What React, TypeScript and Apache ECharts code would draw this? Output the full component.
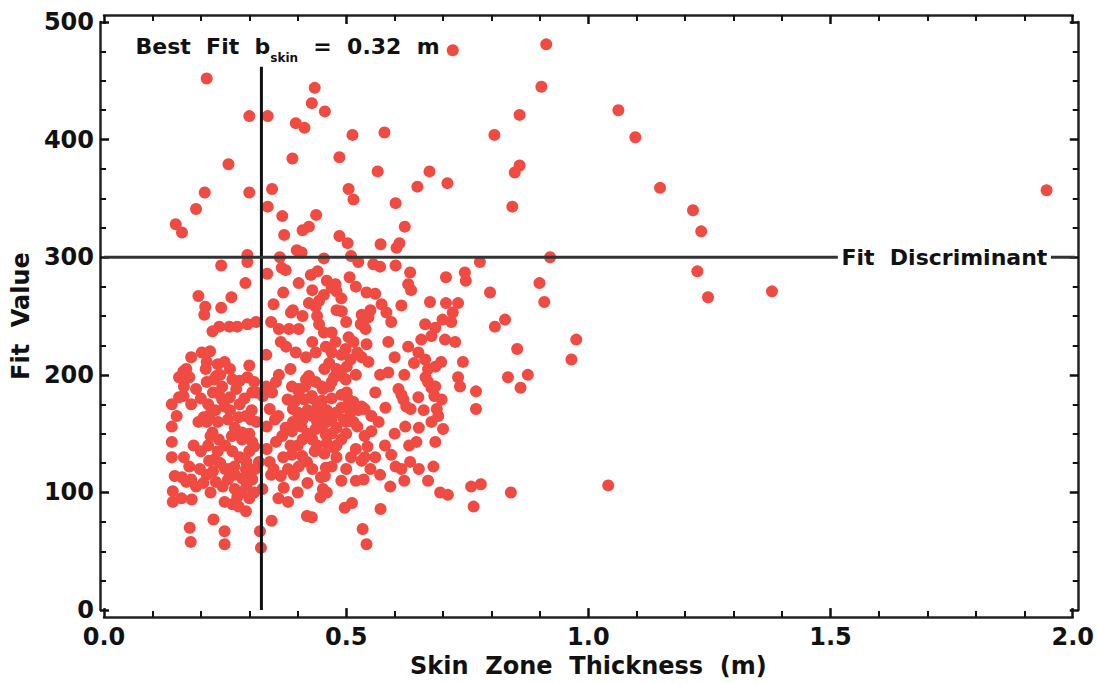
import React, { useEffect, useRef } from "react";
import * as echarts from "echarts";

// Skin zone thickness (m) vs fit value
const upperPoints: number[][] = [
  [0.72, 476], [0.913, 481], [0.212, 452], [0.435, 444], [0.429, 431], [0.456, 424],
  [0.3, 420], [0.338, 420], [0.396, 414], [0.414, 410], [0.513, 404], [0.579, 406],
  [0.806, 404], [0.858, 421], [0.903, 445], [1.062, 425], [1.097, 402], [0.257, 379],
  [0.389, 384], [0.486, 385], [0.565, 373], [0.672, 373], [0.647, 360], [0.709, 363],
  [0.848, 372], [0.858, 378], [1.148, 359], [1.946, 357], [0.208, 355], [0.3, 355],
  [0.347, 358], [0.505, 358], [0.515, 349], [0.602, 346], [0.19, 341], [0.338, 343],
  [0.843, 343], [1.216, 340], [0.368, 335], [0.438, 336], [0.148, 328], [0.161, 321],
  [0.372, 319], [0.41, 323], [0.423, 326], [0.486, 318], [0.503, 312], [0.571, 311],
  [0.604, 308], [0.61, 312], [0.621, 326], [1.233, 322], [0.398, 306], [0.408, 304],
  [0.296, 302], [0.363, 300], [0.454, 299], [0.51, 301], [0.921, 300],
];

const middlePoints: number[][] = [
  [0.242, 293], [0.296, 296], [0.367, 291], [0.375, 289], [0.337, 286], [0.292, 278],
  [0.402, 278], [0.427, 285], [0.441, 288], [0.47, 274], [0.454, 268], [0.444, 263],
  [0.195, 267], [0.263, 266], [0.209, 258], [0.242, 257], [0.507, 283], [0.632, 287],
  [0.628, 277], [0.634, 272], [0.706, 283], [0.745, 287], [0.747, 280], [0.478, 277],
  [0.48, 271], [0.542, 270], [0.56, 269], [0.573, 260], [0.614, 259], [0.673, 262],
  [0.706, 261], [0.731, 261], [0.776, 296], [0.797, 270], [0.899, 278], [0.909, 262],
  [1.225, 288], [1.247, 266], [1.379, 271], [0.525, 296], [0.556, 294], [0.57, 292],
  [0.602, 293], [0.423, 261], [0.437, 258],
  [0.207, 251], [0.224, 237], [0.238, 241], [0.259, 241], [0.275, 241], [0.296, 243],
  [0.314, 245], [0.361, 239], [0.382, 239], [0.402, 239], [0.386, 253], [0.444, 243],
  [0.454, 236], [0.376, 224], [0.396, 219], [0.417, 215], [0.437, 219], [0.458, 224],
  [0.47, 236], [0.48, 255], [0.335, 217], [0.361, 200], [0.202, 219], [0.219, 220],
  [0.212, 211], [0.235, 209], [0.249, 211], [0.164, 203], [0.17, 205],
  [0.491, 254], [0.532, 251], [0.546, 249], [0.53, 243], [0.54, 239], [0.536, 246],
  [0.583, 253], [0.593, 245], [0.72, 253], [0.699, 247], [0.663, 243], [0.684, 240],
  [0.717, 245], [0.478, 228], [0.47, 219], [0.505, 232], [0.515, 228], [0.499, 222],
  [0.49, 217], [0.542, 226], [0.587, 228], [0.628, 224], [0.655, 230], [0.676, 233],
  [0.704, 230], [0.725, 228], [0.649, 219], [0.663, 213], [0.669, 205], [0.684, 207],
  [0.696, 211], [0.532, 215], [0.546, 211], [0.587, 202], [0.741, 211], [0.807, 241],
  [0.828, 247], [0.853, 222], [0.975, 230], [0.965, 213], [0.465, 210], [0.48, 205],
  [0.501, 207], [0.509, 213], [0.523, 219], [0.232, 199],
  [0.35, 260], [0.37, 270], [0.39, 255], [0.41, 250], [0.43, 272], [0.46, 280],
  [0.49, 265], [0.52, 275], [0.55, 255], [0.5, 245], [0.44, 250], [0.345, 245],
  [0.365, 228], [0.385, 205], [0.43, 228], [0.455, 205], [0.52, 200], [0.57, 200],
  [0.6, 215], [0.62, 200], [0.64, 210], [0.21, 205], [0.24, 200], [0.26, 205],
  [0.28, 195], [0.3, 208], [0.18, 215],
];

const lowerPoints: number[][] = [
  [0.14, 175], [0.155, 181], [0.164, 182], [0.155, 198], [0.176, 198], [0.19, 188],
  [0.212, 194], [0.227, 196], [0.237, 184], [0.26, 181], [0.249, 173], [0.206, 164],
  [0.235, 160], [0.256, 162], [0.278, 164], [0.293, 165], [0.303, 162], [0.22, 148],
  [0.237, 145], [0.264, 148], [0.285, 145], [0.14, 156], [0.14, 143], [0.14, 130],
  [0.142, 101], [0.146, 114], [0.161, 113], [0.176, 122], [0.198, 120], [0.212, 115],
  [0.231, 109], [0.245, 105], [0.256, 111], [0.27, 103], [0.284, 100], [0.294, 105],
  [0.306, 111], [0.312, 120], [0.32, 126], [0.293, 120], [0.303, 117], [0.22, 100],
  [0.265, 196], [0.273, 188], [0.296, 198], [0.31, 194], [0.306, 185], [0.244, 179],
  [0.218, 166], [0.244, 190], [0.212, 160], [0.224, 151], [0.285, 151], [0.306, 143],
  [0.31, 139], [0.17, 109], [0.18, 111], [0.217, 127], [0.228, 128], [0.259, 120],
  [0.269, 122], [0.294, 126], [0.327, 103], [0.345, 115], [0.365, 114], [0.371, 104],
  [0.392, 115], [0.388, 132], [0.409, 131], [0.402, 122], [0.419, 126], [0.448, 113],
  [0.458, 121], [0.48, 130], [0.47, 122], [0.456, 114], [0.452, 103], [0.342, 126],
  [0.336, 137], [0.336, 156], [0.342, 171], [0.328, 182], [0.353, 162], [0.423, 199],
  [0.437, 194], [0.452, 188], [0.4, 188], [0.414, 179], [0.379, 179], [0.39, 171],
  [0.491, 199], [0.501, 185], [0.515, 177], [0.538, 171], [0.552, 165], [0.567, 160],
  [0.509, 168], [0.523, 156], [0.538, 148], [0.544, 139], [0.538, 130], [0.552, 152],
  [0.335, 190], [0.355, 194], [0.347, 185], [0.388, 190], [0.402, 186], [0.417, 196],
  [0.429, 182], [0.45, 190], [0.47, 194], [0.355, 143], [0.368, 148], [0.388, 152],
  [0.407, 156], [0.437, 154], [0.458, 149], [0.39, 160], [0.4, 168], [0.41, 162],
  [0.42, 170], [0.43, 165], [0.44, 172], [0.45, 165], [0.46, 170], [0.47, 162],
  [0.48, 168], [0.49, 172], [0.5, 160], [0.42, 150], [0.43, 145], [0.44, 160],
  [0.45, 155], [0.46, 160], [0.47, 150], [0.48, 155], [0.49, 145], [0.5, 150],
  [0.44, 140], [0.46, 142], [0.48, 140], [0.43, 180], [0.45, 178], [0.47, 180],
  [0.49, 183], [0.41, 145], [0.4, 140], [0.622, 156], [0.676, 160], [0.7, 154],
  [0.645, 143], [0.684, 143], [0.593, 132], [0.602, 122], [0.614, 120], [0.632, 126],
  [0.68, 122], [0.669, 110], [0.591, 105], [0.694, 100], [0.758, 105], [0.778, 107],
  [0.84, 100], [0.536, 111], [0.55, 120], [0.532, 127], [0.52, 137], [0.664, 198],
  [0.676, 189], [0.682, 182], [0.697, 179], [0.687, 171], [0.69, 165], [0.614, 183],
  [0.633, 171], [0.649, 181], [0.581, 172], [0.608, 188], [0.618, 179], [0.624, 173],
  [0.669, 194], [0.684, 190], [0.731, 198], [0.735, 190], [0.768, 186], [0.768, 171],
  [0.834, 198], [0.875, 200], [0.86, 189], [0.475, 198], [0.465, 190], [0.499, 196],
  [0.505, 179], [0.532, 173], [0.505, 172], [1.041, 106],
  [0.15, 165], [0.165, 190], [0.18, 175], [0.195, 160], [0.2, 180], [0.215, 175],
  [0.225, 185], [0.23, 170], [0.26, 170], [0.27, 155], [0.28, 175], [0.29, 180],
  [0.3, 150], [0.305, 170], [0.315, 185], [0.315, 160], [0.3, 135], [0.28, 130],
  [0.265, 135], [0.25, 140], [0.235, 135], [0.215, 140], [0.2, 135], [0.19, 105],
  [0.205, 108], [0.225, 118], [0.24, 125], [0.3, 95], [0.31, 100], [0.165, 130],
  [0.185, 140], [0.25, 120], [0.27, 115], [0.285, 112], [0.375, 155], [0.385, 140],
  [0.395, 178], [0.415, 190], [0.435, 135], [0.455, 133], [0.475, 138], [0.495, 162],
  [0.515, 160], [0.525, 170], [0.36, 165], [0.37, 130], [0.35, 120], [0.38, 120],
  [0.43, 120], [0.5, 120], [0.51, 130], [0.52, 110], [0.49, 110], [0.42, 108],
  [0.4, 100], [0.56, 130], [0.58, 140], [0.6, 150], [0.57, 115], [0.63, 140],
  [0.65, 155], [0.66, 170], [0.56, 185], [0.62, 110], [0.65, 120],
];

const bottomPoints: number[][] = [
  [0.177, 70], [0.179, 58], [0.249, 67], [0.249, 56], [0.322, 67], [0.324, 53],
  [0.346, 76], [0.419, 80], [0.429, 79], [0.497, 87], [0.512, 91], [0.534, 69],
  [0.542, 56], [0.571, 86], [0.763, 88], [0.71, 98], [0.226, 77], [0.293, 84],
  [0.278, 88], [0.142, 92], [0.181, 94], [0.249, 92], [0.265, 90], [0.275, 96],
  [0.447, 96], [0.36, 95], [0.38, 92], [0.46, 100], [0.16, 95],
];

const bestFitSkin = 0.325; // labelled 0.32 m
const bestFitLineTop = 462;
const fitDiscriminant = 300;
const discriminantGap = [1.515, 1.955];
const xMax = 2.0;
const yMax = 500;

const FONT = "DejaVu Sans";
const TEXT = "#111";
const FRAME = "#222";

export default function App() {
  const ref = useRef<HTMLDivElement>(null);

  useEffect(() => {
    document.body.style.margin = "0";
    const chart = echarts.init(ref.current!, undefined, { renderer: "svg" });
    const allPoints = [...upperPoints, ...middlePoints, ...lowerPoints, ...bottomPoints];

    const makeAxis = (extra: any, split: number) => ({
      axisLine: { show: true, onZero: false, lineStyle: { color: FRAME, width: 2.5 } },
      axisTick: { show: true, inside: true, length: 9, lineStyle: { color: "#111", width: 2.5 } },
      minorTick: { show: true, splitNumber: split, length: 6, lineStyle: { color: "#111", width: 2 } },
      splitLine: { show: false },
      ...extra,
    });

    const textStyle = { fontWeight: "bold", color: TEXT, fontFamily: FONT, textBorderWidth: 0 };

    chart.setOption({
      animation: false,
      backgroundColor: "#fff",
      grid: { left: 104, right: 23, top: 22, bottom: 72 },
      xAxis: [
        makeAxis({
          type: "value", min: 0, max: xMax, interval: 0.5, position: "bottom", offset: 7,
          axisLabel: { formatter: (v: number) => v.toFixed(1), fontSize: 24, margin: 8, ...textStyle },
          name: "Skin  Zone  Thickness  (m)", nameLocation: "middle", nameGap: 30,
          nameTextStyle: { fontSize: 24, ...textStyle },
        }, 5),
        makeAxis({
          type: "value", min: 0, max: xMax, interval: 0.5, position: "top", offset: 7,
          axisLabel: { show: false },
        }, 5),
      ],
      yAxis: [
        makeAxis({
          type: "value", min: 0, max: yMax, interval: 100, position: "left", offset: 4,
          axisLabel: { fontSize: 24, margin: 6, ...textStyle },
          name: "Fit  Value", nameLocation: "middle", nameGap: 55,
          nameTextStyle: { fontSize: 24, ...textStyle },
        }, 4),
        makeAxis({
          type: "value", min: 0, max: yMax, interval: 100, position: "right", offset: 6,
          axisLabel: { show: false },
        }, 4),
      ],
      series: [
        {
          type: "scatter", data: allPoints, symbol: "circle", symbolSize: 12,
          itemStyle: { color: "#f04b43", opacity: 1 }, z: 2,
        },
        {
          type: "line", data: [[bestFitSkin, 0], [bestFitSkin, bestFitLineTop]],
          symbol: "none", lineStyle: { color: "#111", width: 3 }, z: 3,
        },
        {
          type: "line", data: [[0, fitDiscriminant], [discriminantGap[0], fitDiscriminant]],
          symbol: "none", lineStyle: { color: "#333", width: 3 }, z: 3,
        },
        {
          type: "line", data: [[discriminantGap[1], fitDiscriminant], [xMax + 0.012, fitDiscriminant]],
          symbol: "none", clip: false, lineStyle: { color: "#333", width: 3 }, z: 3,
        },
        {
          type: "scatter", symbolSize: 1, z: 4, itemStyle: { color: "#fff", opacity: 1 },
          data: [[(discriminantGap[0] + discriminantGap[1]) / 2, fitDiscriminant]],
          label: { show: true, position: "inside", formatter: "Fit  Discriminant", fontSize: 22, ...textStyle },
        },
        {
          type: "scatter", symbolSize: 1, z: 4, itemStyle: { color: "#fff", opacity: 1 },
          data: [[0.064, 479]],
          label: {
            show: true, position: "right", distance: 0,
            formatter: "{a|Best  Fit  b}{s|skin}{a|  =  0.32  m}",
            textBorderWidth: 0,
            rich: {
              a: { fontSize: 22, ...textStyle },
              s: { fontSize: 12, ...textStyle, padding: [22, 0, 0, 0] },
            },
          },
        },
      ],
    });
    return () => chart.dispose();
  }, []);

  return <div ref={ref} style={{ width: 1097, height: 683 }} />;
}
